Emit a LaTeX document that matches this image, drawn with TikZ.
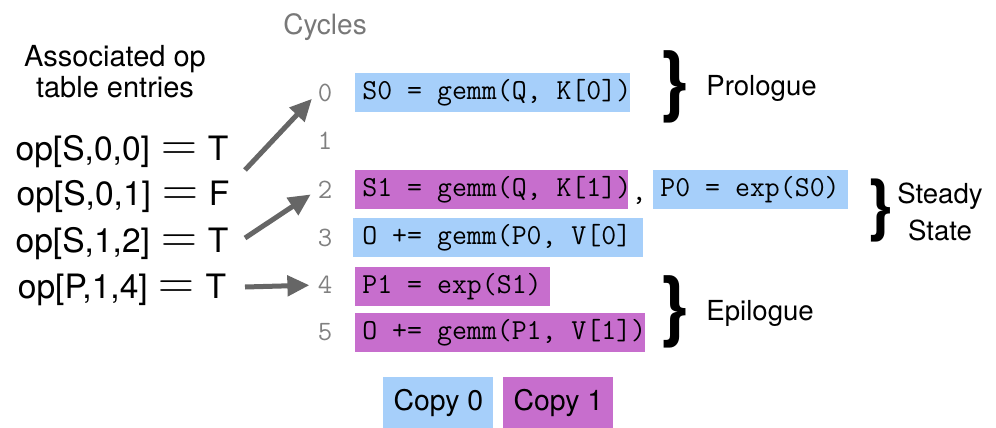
\documentclass[tikz,border=0pt]{standalone}
\usepackage{fontspec}
\setmainfont{TeX Gyre Heros}
\setmonofont{Latin Modern Mono}[WordSpace={1,0,0}]
\usetikzlibrary{arrows.meta}
\definecolor{cblue}{RGB}{166,207,250}
\definecolor{cmag}{RGB}{199,110,205}
\definecolor{agray}{RGB}{102,102,102}
\definecolor{ngray}{RGB}{128,128,128}
\definecolor{cgray}{RGB}{120,120,120}
\newcommand{\bigeq}{\hspace{5.5pt}{\fontsize{24}{24}\selectfont$=$}\hspace{5.5pt}}
\tikzset{
  cbox/.style={anchor=north west, inner sep=0pt, minimum height=19.5pt},
  code/.style={anchor=west, inner sep=0pt, xshift=3.5pt, font=\ttfamily\fontsize{14.5}{17}\selectfont},
  num/.style={text=ngray, inner sep=0pt, font=\ttfamily\fontsize{14}{16}\selectfont},
  optext/.style={anchor=base, inner sep=0pt, font=\fontsize{16.8}{20}\selectfont},
  lab/.style={inner sep=0pt, font=\fontsize{13.8}{18.5}\selectfont},
  bracesym/.style={inner sep=0pt, font=\bfseries\fontsize{39}{39}\selectfont},
  copybox/.style={anchor=north west, inner sep=0pt, minimum width=55pt, minimum height=25.5pt,
    font=\fontsize{14.2}{17}\selectfont},
  arr/.style={draw=agray, line width=2.5pt, -{Triangle[length=11pt,width=10pt]}, shorten >=4pt}
}
\begin{document}
\begin{tikzpicture}[x=0.5pt,y=-0.5pt]
\useasboundingbox (0,0) rectangle (996,428);
% header texts
\node[anchor=base, inner sep=0pt, text=cgray, font=\fontsize{14}{17}\selectfont] (cyc) at (325,34) {Cycles};
\node[anchor=base, inner sep=0pt, font=\fontsize{14.5}{17}\selectfont] (as1) at (115,66) {Associated op};
\node[anchor=base, inner sep=0pt, font=\fontsize{14.5}{17}\selectfont] (as2) at (115,97) {table entries};
% op table entries
\node[optext] (op1) at (122,160) {op[S,0,0]\bigeq{}T};
\node[optext] (op2) at (123,205) {op[S,0,1]\bigeq{}F};
\node[optext] (op3) at (122,252) {op[S,1,2]\bigeq{}T};
\node[optext] (op4) at (122,298) {op[P,1,4]\bigeq{}T};
% cycle numbers
\node[num] (n0) at (325,93) {0};
\node[num] (n1) at (325,141) {1};
\node[num] (n2) at (325,190) {2};
\node[num] (n3) at (325,238) {3};
\node[num] (n4) at (325,285) {4};
\node[num] (n5) at (325,332) {5};
% code boxes
\node[cbox, fill=cblue, minimum width=137.5pt] (c0) at (355,73) {};
\node[code] (c0t) at (c0.west) {S0 = gemm(Q, K[0])};
\node[cbox, fill=cmag, minimum width=136.5pt] (c2a) at (355,170) {};
\node[code] (c2at) at (c2a.west) {S1 = gemm(Q, K[1])};
\node[anchor=base, inner sep=0pt, font=\ttfamily\fontsize{14.5}{17}\selectfont] (comma) at (639,200) {,};
\node[cbox, fill=cblue, minimum width=97.5pt] (c2b) at (653,170) {};
\node[code] (c2bt) at (c2b.west) {P0 = exp(S0)};
\node[cbox, fill=cblue, minimum width=145pt] (c3) at (353,218) {};
\node[code, xshift=1pt] (c3t) at (c3.west) {O += gemm(P0, V[0]};
\node[cbox, fill=cmag, minimum width=97.5pt] (c4) at (355,267) {};
\node[code] (c4t) at (c4.west) {P1 = exp(S1)};
\node[cbox, fill=cmag, minimum width=145pt] (c5) at (355,313) {};
\node[code] (c5t) at (c5.west) {O += gemm(P1, V[1])};
% braces and phase labels
\node[bracesym] (b1) at (674,87) {\}};
\node[lab, anchor=base west] (pro) at (706,95) {Prologue};
\node[bracesym, font=\bfseries\fontsize{34}{34}\selectfont] (b2) at (880,211) {\}};
\node[lab, align=center, anchor=center] (ss) at (940,212) {Steady\\State};
\node[bracesym] (b3) at (674,312) {\}};
\node[lab, anchor=base west] (epi) at (706,320) {Epilogue};
% legend
\node[copybox, fill=cblue] (k0) at (383,377) {Copy 0};
\node[copybox, fill=cmag] (k1) at (503,377) {Copy 1};
% arrows
\coordinate (a1) at (245,170);
\coordinate (a2) at (245,238);
\coordinate (a3) at (245,287);
\draw[arr] (a1) -- (n0.west);
\draw[arr] (a2) -- (n2.west);
\draw[arr] (a3) -- (n4.west);
\end{tikzpicture}
\end{document}
